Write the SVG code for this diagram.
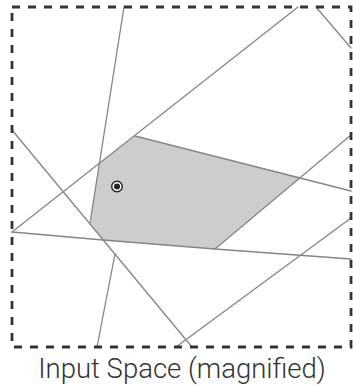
<svg xmlns="http://www.w3.org/2000/svg" width="353" height="386" viewBox="0 0 353 386">
  <style>
    .ln { fill: none; stroke: #858585; stroke-width: 1.3; stroke-linecap: round; stroke-linejoin: round; }
    .frame { fill: none; stroke: #333; stroke-width: 2.8; stroke-dasharray: 8 8; }
    .label { font-family: Roboto, "Liberation Sans", sans-serif; font-size: 27.5px; font-weight: 300; fill: #333; }
  </style>
  <rect width="353" height="386" fill="#fff"/>
  <g id="region">
    <polygon points="99.5,163 135,136 301,177.5 215,249 103,240 90,223" fill="#cdcdcd" stroke="none"/>
  </g>
  <g id="connectors">
    <line class="ln" x1="124" y1="7" x2="90" y2="223"/>
    <line class="ln" x1="12" y1="130" x2="192" y2="347"/>
    <polyline class="ln" points="12,232 103,240 215,249 351,259"/>
    <line class="ln" x1="12" y1="232" x2="298" y2="7"/>
    <line class="ln" x1="351" y1="135" x2="215" y2="249"/>
    <line class="ln" x1="135" y1="136" x2="351" y2="191"/>
    <line class="ln" x1="351" y1="218" x2="176" y2="347"/>
    <line class="ln" x1="316" y1="7" x2="351" y2="48"/>
    <line class="ln" x1="115" y1="254" x2="97" y2="347"/>
  </g>
  <g id="frame">
    <rect class="frame" x="12" y="7" width="339" height="340"/>
  </g>
  <g id="point">
    <circle cx="117" cy="186.5" r="5.3" fill="#fff" stroke="#222" stroke-width="1.4"/>
    <circle cx="117" cy="186.5" r="3" fill="#222"/>
  </g>
  <g id="caption">
    <text class="label" x="182" y="378" text-anchor="middle">Input Space (magnified)</text>
  </g>
</svg>
